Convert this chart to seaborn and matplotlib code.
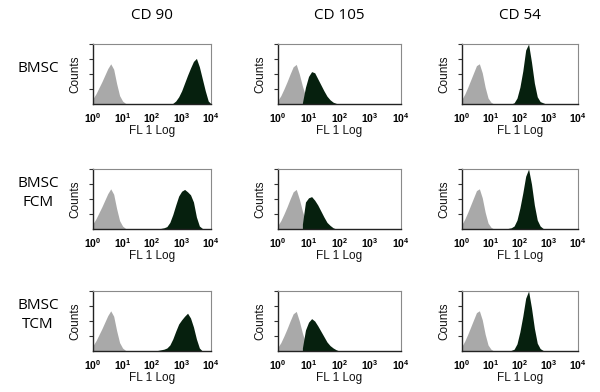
import numpy as np
import matplotlib
matplotlib.use("Agg")
import matplotlib.pyplot as plt
import seaborn as sns

############################################################
# DATA  (log10 FL1 channel, relative counts)
############################################################

markers = ["CD 90", "CD 105", "CD 54"]
groups = ["BMSC", "BMSC\nFCM", "BMSC\nTCM"]
decade_labels = [r"$\mathbf{10^{0}}$", r"$\mathbf{10^{1}}$", r"$\mathbf{10^{2}}$",
                 r"$\mathbf{10^{3}}$", r"$\mathbf{10^{4}}$"]

bin_step = 0.1

# isotype control (grey), one per marker column, starts at log = 0
ctrl_cd90 = [0.09, 0.17, 0.27, 0.37, 0.48, 0.59, 0.67, 0.58, 0.34, 0.14, 0.05, 0.01, 0.0]
ctrl_cd105 = [0.06, 0.14, 0.25, 0.37, 0.50, 0.62, 0.66, 0.50, 0.30, 0.14, 0.05, 0.01, 0.0]
ctrl_cd54 = [0.08, 0.17, 0.28, 0.40, 0.52, 0.64, 0.67, 0.52, 0.28, 0.10, 0.03, 0.0]

# stained samples (dark), start position in log units + counts per bin
cd90_bmsc_start = 2.7
cd90_bmsc = [0.01, 0.05, 0.12, 0.22, 0.35, 0.48, 0.60, 0.71, 0.76, 0.62, 0.42, 0.22, 0.05, 0.0]
cd90_fcm_start = 2.2
cd90_fcm = [0.0, 0.01, 0.02, 0.04, 0.11, 0.24, 0.40, 0.55, 0.63, 0.66, 0.62, 0.57, 0.45, 0.20, 0.05, 0.01, 0.0]
cd90_tcm_start = 2.1
cd90_tcm = [0.0, 0.01, 0.02, 0.03, 0.05, 0.10, 0.20, 0.33, 0.45, 0.52, 0.58, 0.63, 0.55, 0.40, 0.20, 0.05, 0.0]

cd105_bmsc_start = 0.8
cd105_bmsc = [0.02, 0.28, 0.46, 0.54, 0.52, 0.42, 0.32, 0.22, 0.13, 0.07, 0.03, 0.01, 0.0]
cd105_fcm_start = 0.8
cd105_fcm = [0.08, 0.45, 0.52, 0.54, 0.48, 0.40, 0.30, 0.20, 0.11, 0.06, 0.02, 0.0]
cd105_tcm_start = 0.8
cd105_tcm = [0.05, 0.35, 0.48, 0.54, 0.50, 0.42, 0.33, 0.24, 0.15, 0.09, 0.05, 0.02, 0.0]

cd54_bmsc_start = 1.7
cd54_bmsc = [0.0, 0.02, 0.10, 0.28, 0.55, 0.90, 1.0, 0.70, 0.35, 0.12, 0.04, 0.02, 0.0]
cd54_fcm_start = 1.5
cd54_fcm = [0.0, 0.01, 0.02, 0.05, 0.15, 0.35, 0.60, 0.88, 1.0, 0.75, 0.40, 0.15, 0.05, 0.01, 0.0]
cd54_tcm_start = 1.6
cd54_tcm = [0.0, 0.01, 0.03, 0.12, 0.32, 0.58, 0.88, 1.0, 0.72, 0.38, 0.13, 0.04, 0.01, 0.0]

controls = [ctrl_cd90, ctrl_cd105, ctrl_cd54]

stained = [
    [(cd90_bmsc_start, cd90_bmsc), (cd105_bmsc_start, cd105_bmsc), (cd54_bmsc_start, cd54_bmsc)],
    [(cd90_fcm_start, cd90_fcm), (cd105_fcm_start, cd105_fcm), (cd54_fcm_start, cd54_fcm)],
    [(cd90_tcm_start, cd90_tcm), (cd105_tcm_start, cd105_tcm), (cd54_tcm_start, cd54_tcm)],
]

############################################################
# LAYOUT
############################################################

sns.set_style("white")
plt.rcParams["font.family"] = ["Liberation Sans", "DejaVu Sans"]
plt.rcParams["mathtext.fontset"] = "custom"
plt.rcParams["mathtext.bf"] = "Liberation Sans:bold"
plt.rcParams["mathtext.rm"] = "Liberation Sans"

fig = plt.figure(figsize=(6, 3.92), dpi=100)

col_left = [0.155, 0.463, 0.770]
col_width = [0.197, 0.205, 0.193]
row_bottom = [0.7347, 0.4158, 0.1046]
row_height = 0.153

grey = "#a9a9a9"
dark = "#06200e"


def draw_hist(ax, start, counts, color):
    xs = start + bin_step * np.arange(len(counts))
    sns.histplot(
        x=xs,
        weights=counts,
        binwidth=bin_step,
        binrange=(xs[0] - bin_step / 2, xs[-1] + bin_step / 2),
        element="poly",
        fill=True,
        color=color,
        alpha=1,
        linewidth=0,
        ax=ax,
    )


for r in range(3):
    for c in range(3):
        ax = fig.add_axes([col_left[c], row_bottom[r], col_width[c], row_height])

        draw_hist(ax, 0.0, controls[c], grey)
        start, counts = stained[r][c]
        draw_hist(ax, start, counts, dark)

        ax.set_xlim(0, 4)
        ax.set_ylim(0, 1.0)
        ax.set_xticks(range(5))
        ax.set_xticklabels(decade_labels, fontsize=7.5, color="black")
        ax.set_yticks([0.25, 0.5, 0.75, 1.0])
        ax.set_yticklabels([])
        ax.tick_params(axis="x", length=0, pad=5)
        ax.tick_params(axis="y", left=True, length=3, width=0.8, color="#333333")

        ax.set_xlabel("FL 1 Log", fontsize=8.5, labelpad=0, color="#111111")
        ax.set_ylabel("Counts", fontsize=8.5, labelpad=2, color="#111111")

        for side in ["left", "bottom"]:
            ax.spines[side].set_color("#222222")
            ax.spines[side].set_linewidth(1.0)
        for side in ["top", "right"]:
            ax.spines[side].set_color("#8a8a8a")
            ax.spines[side].set_linewidth(0.8)

        if r == 0:
            ax.set_title(markers[c], fontsize=11, pad=18, color="black",
                         family=["Open Sans", "DejaVu Sans"])

    fig.text(0.063, row_bottom[r] + row_height / 2 + 0.015, groups[r],
             ha="center", va="center", fontsize=11, linespacing=1.3, color="black",
             family=["Open Sans", "DejaVu Sans"])

fig.savefig("out.png", dpi=100)
